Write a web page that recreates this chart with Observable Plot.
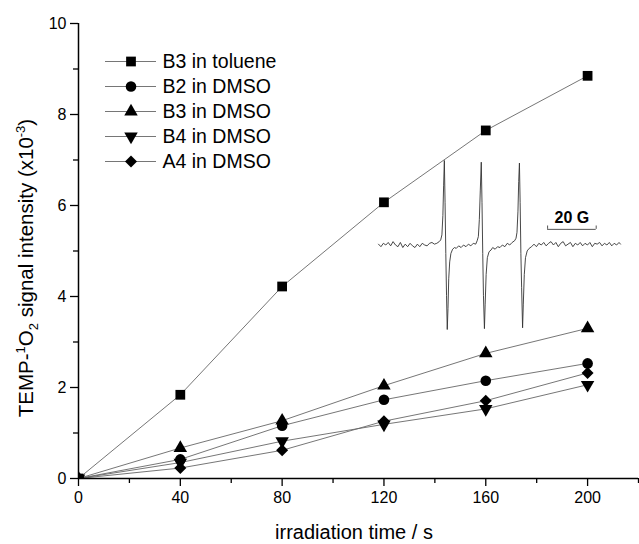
<!DOCTYPE html>
<html><head><meta charset="utf-8">
<script src="https://cdn.jsdelivr.net/npm/d3@7"></script>
<script src="https://cdn.jsdelivr.net/npm/@observablehq/plot@0.6"></script>
<style>
body{margin:0;background:#fff;}
#chart{position:relative;width:639px;height:544px;font-family:"Liberation Sans",Arial,sans-serif;}
#chart > svg{position:absolute;left:0;top:0;}
</style></head><body><div id="chart"></div>
<script>
// ---- main data ----
const times = [0, 40, 80, 120, 160, 200];
const seriesNames = ["B3 in toluene", "B2 in DMSO", "B3 in DMSO", "B4 in DMSO", "A4 in DMSO"];
const b3Toluene = [0, 1.84, 4.22, 6.07, 7.65, 8.85];
const b2DMSO    = [0, 0.42, 1.16, 1.73, 2.15, 2.53];
const b3DMSO    = [0, 0.67, 1.27, 2.04, 2.75, 3.30];
const b4DMSO    = [0, 0.35, 0.82, 1.19, 1.53, 2.06];
const a4DMSO    = [0, 0.23, 0.62, 1.26, 1.71, 2.32];
const xMajorTicks = [0, 40, 80, 120, 160, 200];
const xMinorTicks = [20, 60, 100, 140, 180, 220];
const yMajorTicks = [0, 2, 4, 6, 8, 10];
const yMinorTicks = [1, 3, 5, 7, 9];
const xTitle = "irradiation time / s";

// ---- inset ESR spectrum (field in G, relative signal) ----
const insetField = [
  0,1,2,3,4,5,6,7,8,9,10,11,12,13,14,15,16,17,18,19,20,21,22,23,24,25,
  25.6,26.1,26.5,26.8,27.1,27.4,27.7,28.0,28.3,28.6,28.9,29.3,29.8,30.5,31.3,32,33,34,35,36,37,38,39,40,
  40.6,41.1,41.5,41.9,42.3,42.6,42.9,43.2,43.6,43.9,44.3,44.8,45.5,46.3,47,48,49,50,51,52,53,54,55,56,
  56.6,57.0,57.4,57.7,58.0,58.3,58.6,58.9,59.3,59.6,60,60.5,61.2,
  62,63,64,65,66,67,68,69,70,71,72,73,74,75,76,77,78,79,80,81,82,83,84,85,86,87,88,89,90,91,92,93,94,95,96,97,98,99,99.6
];
const insetSignal = [
  0.01,-0.02,0.02,0.0,0.03,-0.01,0.04,0.0,-0.02,0.03,-0.03,0.01,-0.02,0.02,-0.01,-0.03,0.01,-0.02,0.02,0.0,-0.01,0.02,0.03,0.01,0.02,0.04,
  0.06,0.12,0.35,0.7,1.0,0.5,-0.1,-0.6,-1.0,-0.75,-0.4,-0.2,-0.1,-0.05,-0.03,-0.04,-0.01,-0.03,0.0,-0.02,0.01,-0.01,0.02,0.01,
  0.05,0.1,0.3,0.65,0.98,0.5,-0.1,-0.6,-0.99,-0.7,-0.35,-0.15,-0.08,-0.06,-0.03,-0.05,-0.02,-0.03,0.0,-0.02,0.02,0.0,0.03,0.05,
  0.08,0.15,0.4,0.75,0.97,0.5,-0.1,-0.5,-0.98,-0.7,-0.35,-0.15,-0.07,
  -0.04,-0.02,0.01,-0.02,0.02,0.0,0.03,-0.01,0.02,0.04,0.0,0.03,-0.02,0.02,0.04,-0.01,0.01,0.03,-0.02,0.02,0.0,0.03,-0.01,0.02,0.0,0.03,-0.02,0.02,0.01,0.03,-0.01,0.02,0.0,0.03,-0.01,0.02,0.0,0.03,0.01
];
const scaleBarStart = 69.6, scaleBarLength = 20, scaleBarLevel = 0.185, scaleBarLabel = "20 G";

// ---- build ----
const FONT = '"Liberation Sans", Arial, sans-serif';
const seriesValues = [b3Toluene, b2DMSO, b3DMSO, b4DMSO, a4DMSO];
const rows = seriesNames.flatMap((name, i) => times.map((t, j) => ({name, t, v: seriesValues[i][j]})));

const downTriangle = {
  draw(context, size) {
    const y = -Math.sqrt(size / (Math.sqrt(3) * 3));
    context.moveTo(0, -y * 2);
    context.lineTo(-Math.sqrt(3) * y, y);
    context.lineTo(Math.sqrt(3) * y, y);
    context.closePath();
  }
};
const symbols = ["square", "circle", "triangle", downTriangle, "diamond2"];
const radii = [5.5, 5.3, 5, 5, 5.4];

const chart = document.getElementById("chart");

const main = Plot.plot({
  width: 639, height: 544,
  marginLeft: 78, marginRight: 1, marginTop: 23, marginBottom: 66,
  x: {domain: [0, 220], axis: null},
  y: {domain: [0, 10], axis: null},
  style: {fontFamily: FONT, fontSize: "16px", background: "white", color: "black"},
  marks: [
    Plot.line(rows, {x: "t", y: "v", z: "name", stroke: "#666", strokeWidth: 0.9}),
    ...seriesNames.map((name, i) => Plot.dot(rows.filter(d => d.name === name), {
      x: "t", y: "v", symbol: symbols[i], r: radii[i], fill: "black", stroke: "none", clip: true
    })),
    Plot.axisX({ticks: xMajorTicks, tickSize: 8, tickPadding: 5, tickFormat: d => d, label: null, fontSize: 16, strokeWidth: 1.3}),
    Plot.axisX({ticks: xMinorTicks, tickSize: 5, tickFormat: () => "", label: null, strokeWidth: 1.3}),
    Plot.axisY({ticks: yMajorTicks, tickSize: 8, tickPadding: 4, tickFormat: d => d, label: null, fontSize: 16, strokeWidth: 1.3}),
    Plot.axisY({ticks: yMinorTicks, tickSize: 5, tickFormat: () => "", label: null, strokeWidth: 1.3}),
    Plot.ruleY([0], {stroke: "black", strokeWidth: 1.5}),
    Plot.ruleX([0], {stroke: "black", strokeWidth: 1.5})
  ]
});
chart.appendChild(main);

// axis titles
const svg = d3.select(main);
svg.append("text").attr("x", 354).attr("y", 539).attr("text-anchor", "middle")
  .attr("font-family", FONT).attr("font-size", 20).attr("fill", "black").text(xTitle);
const yt = svg.append("text").attr("transform", "translate(33,268) rotate(-90)")
  .attr("text-anchor", "middle").attr("font-family", FONT).attr("font-size", 20.5).attr("fill", "black");
yt.append("tspan").text("TEMP-");
yt.append("tspan").attr("dy", -8).attr("font-size", 13).text("1");
yt.append("tspan").attr("dy", 8).text("O");
yt.append("tspan").attr("dy", 5).attr("font-size", 13).text("2");
yt.append("tspan").attr("dy", -5).text(" signal intensity (x10");
yt.append("tspan").attr("dy", -8).attr("font-size", 13).text("-3");
yt.append("tspan").attr("dy", 8).text(")");

// legend overlay
const legend = Plot.plot({
  width: 639, height: 544, margin: 0,
  x: {domain: [0, 1], range: [105, 156], axis: null},
  y: {type: "point", domain: seriesNames, range: [59.3, 162.3], padding: 0, axis: null},
  style: {fontFamily: FONT, background: "transparent"},
  marks: [
    Plot.ruleY(seriesNames, {y: d => d, x1: 0, x2: 1, stroke: "#666", strokeWidth: 0.9}),
    ...seriesNames.map((name, i) => Plot.dot([name], {y: d => d, x: 0.5, symbol: symbols[i], r: radii[i], fill: "black", stroke: "none"})),
    Plot.text(seriesNames, {y: d => d, x: 1, dx: 6, text: d => d, textAnchor: "start", fontSize: 19.5, fill: "black"})
  ]
});
legend.style.pointerEvents = "none";
chart.appendChild(legend);

// inset overlay
const insetRows = insetField.map((f, i) => ({f, s: insetSignal[i]}));
const inset = Plot.plot({
  width: 639, height: 544, margin: 0,
  x: {domain: [0, 99.6], range: [378, 620], axis: null},
  y: {domain: [-1, 1], range: [329, 160], axis: null},
  style: {fontFamily: FONT, background: "transparent"},
  marks: [
    Plot.line(insetRows, {x: "f", y: "s", stroke: "#333", strokeWidth: 0.9}),
    Plot.ruleY([scaleBarLevel], {x1: scaleBarStart, x2: scaleBarStart + scaleBarLength, stroke: "#555", strokeWidth: 1}),
    Plot.ruleX([scaleBarStart, scaleBarStart + scaleBarLength], {y1: scaleBarLevel, y2: scaleBarLevel + 0.04, stroke: "#555", strokeWidth: 1}),
    Plot.text([scaleBarLabel], {x: scaleBarStart + scaleBarLength / 2, y: scaleBarLevel + 0.07, text: d => d, lineAnchor: "bottom", fontSize: 16, fontWeight: "bold", fill: "black"})
  ]
});
inset.style.pointerEvents = "none";
chart.appendChild(inset);
</script></body></html>
